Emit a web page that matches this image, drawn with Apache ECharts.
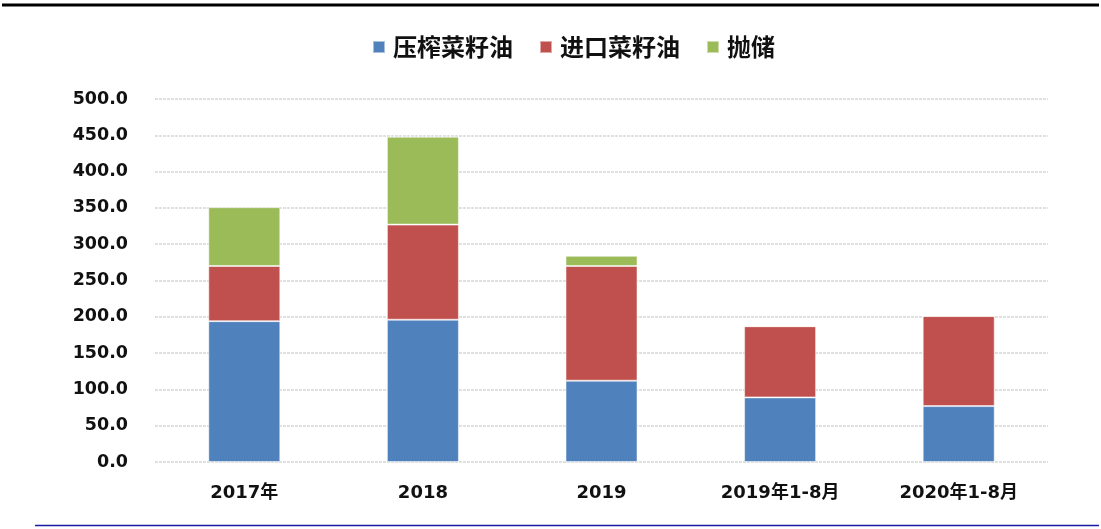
<!DOCTYPE html>
<html><head><meta charset="utf-8">
<script src="https://cdn.jsdelivr.net/npm/echarts@6/dist/echarts.min.js"></script>
<style>html,body{margin:0;padding:0;background:#fff}#c{width:1101px;height:529px}</style>
</head><body><div id="c"></div>
<script>
const categories = ['2017年', '2018', '2019', '2019年1-8月', '2020年1-8月'];
const seriesNames = ['压榨菜籽油', '进口菜籽油', '抛储'];
const crushValues = [194, 196, 112, 89, 77];
const importValues = [76, 131, 158, 98, 124];
const reserveValues = [81, 121, 14, 0, 0];
const colors = ['#4F81BD', '#C0504D', '#9BBB59'];

const chart = echarts.init(document.getElementById('c'), null, {renderer: 'canvas'});
const mk = (name, data, color) => ({
  name, type: 'bar', stack: 'total', data, barWidth: 72,
  itemStyle: {color, borderColor: 'rgba(255,255,255,0.5)', borderWidth: 1}
});
chart.setOption({
  animation: false,
  backgroundColor: '#fff',
  legend: {
    top: 30, left: 367, itemWidth: 12, itemHeight: 12, itemGap: 26,
    icon: 'rect',
    textStyle: {fontFamily: '"Noto Sans CJK SC"', fontSize: 24, fontWeight: 'bold', color: '#111', padding: [0, 0, 0, 3]},
    data: seriesNames
  },
  grid: {left: 155, right: 53, top: 99, bottom: 67},
  xAxis: {
    type: 'category', data: categories,
    axisLine: {show: false}, axisTick: {show: false},
    axisLabel: {margin: 22, fontFamily: '"DejaVu Sans", "Noto Sans CJK SC"', fontSize: 18, fontWeight: 'bold', color: '#111'}
  },
  yAxis: {
    type: 'value', min: 0, max: 500, interval: 50,
    axisLine: {show: false}, axisTick: {show: false},
    splitLine: {lineStyle: {color: '#d6d6d6', type: [3, 1], width: 1.5}},
    axisLabel: {margin: 27, fontFamily: '"DejaVu Sans"', fontSize: 17.5, fontWeight: 'bold', color: '#111',
      formatter: v => v.toFixed(1)}
  },
  series: [
    mk(seriesNames[0], crushValues, colors[0]),
    mk(seriesNames[1], importValues, colors[1]),
    mk(seriesNames[2], reserveValues, colors[2])
  ],
  graphic: [
    {type: 'line', shape: {x1: 2, y1: 5, x2: 1099, y2: 5}, style: {stroke: '#000', lineWidth: 3}},
    {type: 'line', shape: {x1: 35, y1: 525.5, x2: 1099, y2: 525.5}, style: {stroke: '#1a1aa0', lineWidth: 1.5}}
  ]
});
</script></body></html>
